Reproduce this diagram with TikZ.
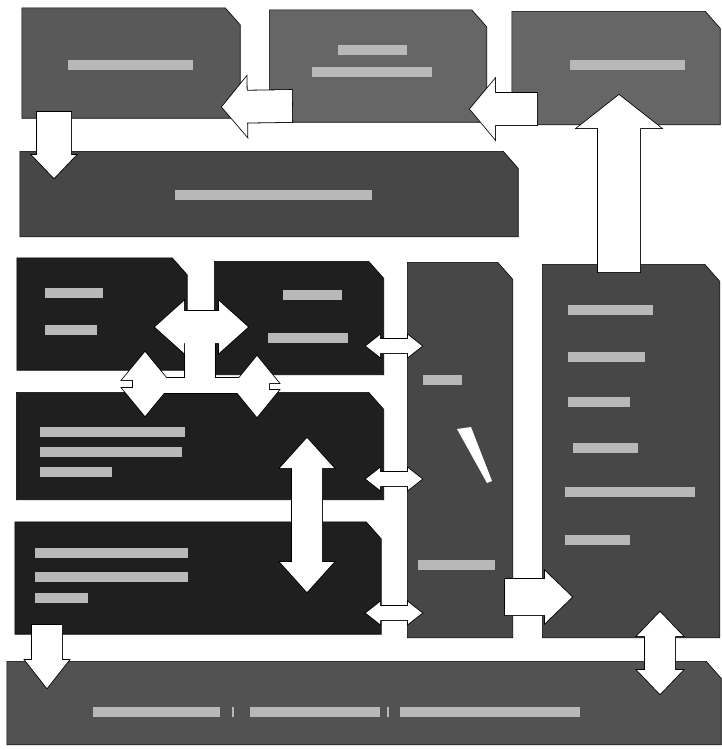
\documentclass[tikz,border=0pt]{standalone}
\usepackage{tikz}
\usetikzlibrary{calc}

% block arrow: tail, tip, half shaft, half head, head length
\newcommand\blockarrow[5]{%
  \coordinate (hb) at ($(#2)!#5!(#1)$);
  \path[arr] ($(#1)!#3!90:(#2)$) -- ($(hb)!#3!-90:(#1)$) -- ($(hb)!#4!-90:(#1)$) -- (#2)
    -- ($(hb)!#4!90:(#1)$) -- ($(hb)!#3!90:(#1)$) -- ($(#1)!#3!-90:(#2)$) -- cycle;}
% double block arrow: tip, tip, half shaft, half head, head length
\newcommand\dblarrow[5]{%
  \coordinate (h1) at ($(#1)!#5!(#2)$);
  \coordinate (h2) at ($(#2)!#5!(#1)$);
  \path[arr] (#1) -- ($(h1)!#4!90:(#2)$) -- ($(h1)!#3!90:(#2)$) -- ($(h2)!#3!-90:(#1)$)
    -- ($(h2)!#4!-90:(#1)$) -- (#2) -- ($(h2)!#4!90:(#1)$) -- ($(h2)!#3!90:(#1)$)
    -- ($(h1)!#3!-90:(#2)$) -- ($(h1)!#4!-90:(#2)$) -- cycle;}

\begin{document}
\begin{tikzpicture}[x=1pt, y=-1pt]
\tikzstyle{box}=[rectangle, inner sep=0pt]
\tikzstyle{txt}=[rectangle, fill=white!72!black, inner sep=0pt, minimum height=10pt]
\useasboundingbox (0,0) rectangle (722,750);

% top row
\node[box, minimum width=218pt, minimum height=110pt] (top1) at (131,63) {};
\node[box, minimum width=217pt, minimum height=112pt] (top2) at (378,66) {};
\node[box, minimum width=208pt, minimum height=113pt] (top3) at (616,68) {};
\node[box, minimum width=498pt, minimum height=85pt] (bus) at (269,194) {};
% middle
\node[box, minimum width=170pt, minimum height=112pt] (ml) at (102,314) {};
\node[box, minimum width=169pt, minimum height=113pt] (mr) at (299,318) {};
\node[box, minimum width=367pt, minimum height=107pt] (mid) at (200,446) {};
\node[box, minimum width=366pt, minimum height=112pt] (low) at (198,578) {};
\node[box, minimum width=105pt, minimum height=375pt] (col) at (460,450) {};
\node[box, minimum width=177pt, minimum height=373pt] (side) at (631,451) {};
% bottom
\node[box, minimum width=714pt, minimum height=83pt] (base) at (364,703) {};

% box bodies, top right corner cut
\foreach \n/\c in {top1/65, top2/60, top3/60, bus/72, ml/88, mr/88, mid/88, low/88, col/72, side/72, base/68}
  \filldraw[fill=black!\c, draw=black, line width=0.6pt] (\n.south west) -- (\n.north west)
    -- ($(\n.north east)+(-15,0)$) -- ($(\n.north east)+(0,17)$) -- (\n.south east) -- cycle;

% illegible labels
\node[txt, minimum width=125pt] (top1-t) at (130,65) {};
\node[txt, minimum width=69pt] (top2-t1) at (372,50) {};
\node[txt, minimum width=120pt] (top2-t2) at (372,72) {};
\node[txt, minimum width=115pt] (top3-t) at (627,65) {};
\node[txt, minimum width=197pt] (bus-t) at (273,195) {};
\node[txt, minimum width=58pt] (ml-t1) at (74,293) {};
\node[txt, minimum width=52pt] (ml-t2) at (71,330) {};
\node[txt, minimum width=59pt] (mr-t1) at (312,295) {};
\node[txt, minimum width=80pt] (mr-t2) at (308,338) {};
\node[txt, minimum width=145pt] (mid-t1) at (112,432) {};
\node[txt, minimum width=142pt] (mid-t2) at (111,452) {};
\node[txt, minimum width=72pt] (mid-t3) at (76,472) {};
\node[txt, minimum width=153pt] (low-t1) at (111,553) {};
\node[txt, minimum width=153pt] (low-t2) at (111,577) {};
\node[txt, minimum width=53pt] (low-t3) at (61,598) {};
\node[txt, minimum width=39pt] (col-t1) at (442,380) {};
\node[txt, minimum width=77pt] (col-t2) at (456,565) {};
\node[txt, minimum width=85pt] (side-t1) at (610,310) {};
\node[txt, minimum width=77pt] (side-t2) at (606,357) {};
\node[txt, minimum width=62pt] (side-t3) at (599,402) {};
\node[txt, minimum width=65pt] (side-t4) at (605,448) {};
\node[txt, minimum width=130pt] (side-t5) at (630,492) {};
\node[txt, minimum width=65pt] (side-t6) at (597,540) {};
\node[txt, minimum width=127pt] (base-t1) at (156,712) {};
\node[txt, minimum width=2pt] (base-s1) at (233,712) {};
\node[txt, minimum width=130pt] (base-t2) at (315,712) {};
\node[txt, minimum width=2pt] (base-s2) at (388,712) {};
\node[txt, minimum width=180pt] (base-t3) at (490,712) {};
\fill[white] (457,429) -- (471,427) -- (492,481) -- (487,483) -- cycle;

% arrow ends
\coordinate (a21-s) at (292,106); \coordinate (a21-e) at (222,107);
\coordinate (a32-s) at (537,109); \coordinate (a32-e) at (470,109);
\coordinate (a1b-s) at (54,112);  \coordinate (a1b-e) at (54,178);
\coordinate (as3-s) at (619,272); \coordinate (as3-e) at (619,95);
\coordinate (lr-l) at (155,327);  \coordinate (lr-r) at (248,327);
\coordinate (lm1-t) at (145,352); \coordinate (lm1-b) at (145,416);
\coordinate (lm2-t) at (257,356); \coordinate (lm2-b) at (257,417);
\coordinate (ml-t) at (307,438);  \coordinate (ml-b) at (307,592);
\coordinate (rc-l) at (366,346);  \coordinate (rc-r) at (422,346);
\coordinate (mc-l) at (366,479);  \coordinate (mc-r) at (422,479);
\coordinate (lc-l) at (366,613);  \coordinate (lc-r) at (422,613);
\coordinate (cs-s) at (505,597);  \coordinate (cs-e) at (572,597);
\coordinate (lb-s) at (47,625);   \coordinate (lb-e) at (47,688);
\coordinate (sb-t) at (660,612);  \coordinate (sb-b) at (660,694);

\newcommand\arrowlist{%
  \blockarrow{a21-s}{a21-e}{16pt}{30pt}{25pt}
  \blockarrow{a32-s}{a32-e}{16pt}{30pt}{25pt}
  \blockarrow{a1b-s}{a1b-e}{17pt}{22pt}{23pt}
  \blockarrow{as3-s}{as3-e}{21pt}{42pt}{33pt}
  \path[arr] (185,338) rectangle (215,386);
  \path[arr] (150,378) rectangle (252,393);
  \dblarrow{lr-l}{lr-r}{16pt}{26pt}{29pt}
  \dblarrow{lm1-t}{lm1-b}{12pt}{23pt}{28pt}
  \dblarrow{lm2-t}{lm2-b}{12pt}{22pt}{27pt}
  \dblarrow{ml-t}{ml-b}{15pt}{27pt}{30pt}
  \dblarrow{rc-l}{rc-r}{7pt}{11pt}{14pt}
  \dblarrow{mc-l}{mc-r}{7pt}{11pt}{14pt}
  \dblarrow{lc-l}{lc-r}{7pt}{11pt}{14pt}
  \blockarrow{cs-s}{cs-e}{18pt}{26pt}{27pt}
  \blockarrow{lb-s}{lb-e}{15pt}{22pt}{28pt}
  \dblarrow{sb-t}{sb-b}{15pt}{23pt}{24pt}}
% outline first, then white fill on top
\begin{scope}[arr/.style={draw=black, line width=1.6pt}]
  \arrowlist
\end{scope}
\begin{scope}[arr/.style={fill=white}]
  \arrowlist
\end{scope}
\end{tikzpicture}
\end{document}
